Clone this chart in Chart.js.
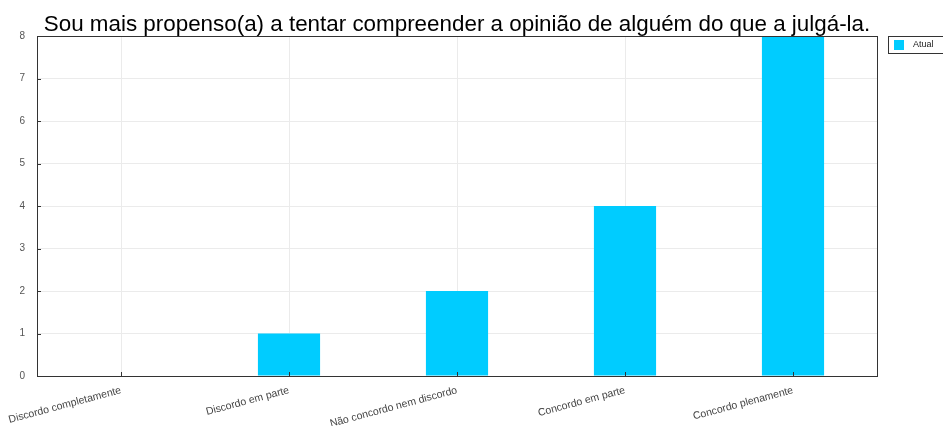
<!DOCTYPE html>
<html>
<head>
<meta charset="utf-8">
<script src="https://cdn.jsdelivr.net/npm/chart.js@4"></script>
<style>
  html, body { margin: 0; padding: 0; background: #fff; }
  #wrap { width: 943px; height: 426px; position: relative; }
</style>
</head>
<body>
<div id="wrap"><canvas id="chart"></canvas></div>
<script>
// Chart data
const chartTitle = 'Sou mais propenso(a) a tentar compreender a opinião de alguém do que a julgá-la.';
const categories = ['Discordo completamente', 'Discordo em parte', 'Não concordo nem discordo', 'Concordo em parte', 'Concordo plenamente'];
const seriesName = 'Atual';
const values = [0, 1, 2, 4, 8];
const yTicks = [0, 1, 2, 3, 4, 5, 6, 7, 8];

const barColor = '#00ccff';

// title, frame, inward ticks and boxed legend
const decorPlugin = {
    id: 'decor',
    afterDraw(chart) {
        const ctx = chart.ctx;
        const a = chart.chartArea;
        ctx.save();

        // frame
        ctx.strokeStyle = '#333';
        ctx.lineWidth = 1;
        ctx.strokeRect(Math.round(a.left) + 0.5, Math.round(a.top) + 0.5, Math.round(a.right - a.left), Math.round(a.bottom - a.top));

        // inward tick marks
        const y = chart.scales.y;
        yTicks.forEach(v => {
            const py = Math.round(y.getPixelForValue(v)) + 0.5;
            ctx.beginPath();
            ctx.moveTo(a.left, py);
            ctx.lineTo(a.left + 4, py);
            ctx.stroke();
        });
        const x = chart.scales.x;
        categories.forEach((c, i) => {
            const px = Math.round(x.getPixelForValue(i)) + 0.5;
            ctx.beginPath();
            ctx.moveTo(px, a.bottom);
            ctx.lineTo(px, a.bottom - 4);
            ctx.stroke();
        });

        // title
        ctx.fillStyle = '#000';
        ctx.font = '22.4px "Liberation Sans", Arial, sans-serif';
        ctx.textAlign = 'center';
        ctx.textBaseline = 'alphabetic';
        ctx.fillText(chartTitle, (a.left + a.right) / 2, 31);

        // legend
        const lx = 888.5, ly = 36.5, lw = 55, lh = 17;
        ctx.fillStyle = '#fff';
        ctx.fillRect(lx, ly, lw, lh);
        ctx.strokeStyle = '#333';
        ctx.strokeRect(lx, ly, lw, lh);
        ctx.fillStyle = barColor;
        ctx.fillRect(894, 40, 10, 10);
        ctx.fillStyle = '#222';
        ctx.font = '9px "Liberation Sans", Arial, sans-serif';
        ctx.textAlign = 'left';
        ctx.textBaseline = 'middle';
        ctx.fillText(seriesName, 913, 45);

        ctx.restore();
    }
};

new Chart(document.getElementById('chart'), {
    type: 'bar',
    data: {
        labels: categories,
        datasets: [{
            label: seriesName,
            data: values,
            backgroundColor: barColor,
            borderWidth: 0,
            categoryPercentage: 0.74,
            barPercentage: 0.5
        }]
    },
    options: {
        responsive: true,
        maintainAspectRatio: false,
        animation: false,
        layout: {
            padding: { top: 36, right: 66, left: 0, bottom: 0 }
        },
        plugins: {
            legend: { display: false },
            title: { display: false },
            tooltip: { enabled: false }
        },
        scales: {
            x: {
                grid: {
                    offset: false,
                    color: '#ebebeb',
                    drawTicks: false
                },
                border: { display: false },
                ticks: {
                    color: '#444',
                    font: { size: 10.5, family: '"Liberation Sans", Arial, sans-serif' },
                    minRotation: 15,
                    maxRotation: 15,
                    autoSkip: false,
                    padding: 8
                },
                afterFit(scale) {
                    scale.height = 50;
                    scale.paddingLeft = 0;
                    scale.paddingRight = 0;
                }
            },
            y: {
                min: 0,
                max: 8,
                grid: {
                    color: '#ebebeb',
                    drawTicks: false
                },
                border: { display: false },
                ticks: {
                    stepSize: 1,
                    color: '#555',
                    font: { size: 10, family: '"Liberation Sans", Arial, sans-serif' },
                    padding: 12
                },
                afterFit(scale) { scale.width = 37; }
            }
        }
    },
    plugins: [decorPlugin]
});
</script>
</body>
</html>
